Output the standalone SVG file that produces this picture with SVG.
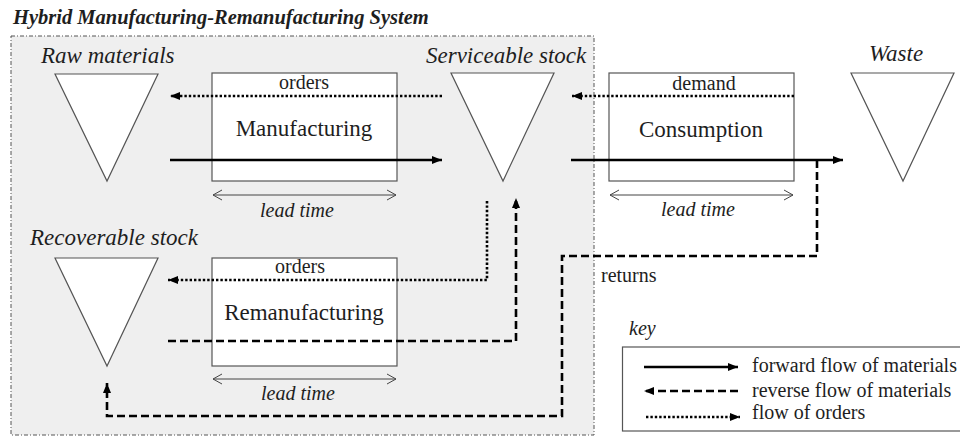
<svg xmlns="http://www.w3.org/2000/svg" width="960" height="436" viewBox="0 0 960 436">
<defs>
<style>
text{font-family:"Liberation Serif","Times New Roman",serif;fill:#1e1e1e}
.title{font-size:20.5px;font-weight:bold;font-style:italic}
.stock{font-size:23px;font-style:italic}
.lbl{font-size:23px;text-anchor:middle}
.small{font-size:20px;text-anchor:middle}
.lt{font-size:20px;font-style:italic;text-anchor:middle}
.txt{font-size:20px}
.tri{fill:#fff;stroke:#555;stroke-width:1.2}
.box{fill:#fff;stroke:#555;stroke-width:1.2}
.solid{fill:none;stroke:#000;stroke-width:2.6}
.dash{fill:none;stroke:#000;stroke-width:2.6;stroke-dasharray:8 4}
.dot{fill:none;stroke:#000;stroke-width:2.6;stroke-dasharray:2.4 2}
.lead{fill:none;stroke:#444;stroke-width:1}
</style>
<marker id="ah" markerUnits="userSpaceOnUse" markerWidth="12" markerHeight="10" refX="10" refY="5" orient="auto-start-reverse" viewBox="0 0 12 10">
<path d="M0,1 L10,5 L0,9 z" fill="#000"/>
</marker>
<marker id="ch" markerUnits="userSpaceOnUse" markerWidth="12" markerHeight="12" refX="10" refY="6" orient="auto-start-reverse" viewBox="0 0 12 12">
<path d="M1,1 L10,6 L1,11" fill="none" stroke="#444" stroke-width="1"/>
</marker>
</defs>
<rect width="960" height="436" fill="#fff"/>
<text class="title" x="13" y="24">Hybrid Manufacturing-Remanufacturing System</text>
<g id="system-boundary">
<rect x="11" y="36" width="583" height="399" fill="#efefef" stroke="#555" stroke-width="1" stroke-dasharray="4 2 1 2"/>
</g>
<g id="raw-materials">
<text class="stock" x="41" y="63">Raw materials</text>
<polygon class="tri" points="55,74 158,74 107,181"/>
</g>
<g id="manufacturing">
<rect class="box" x="212" y="73" width="185" height="108"/>
<text class="small" x="304" y="89">orders</text>
<text class="lbl" x="304" y="136">Manufacturing</text>
<line class="lead" x1="213" y1="195" x2="396" y2="195" marker-start="url(#ch)" marker-end="url(#ch)"/>
<text class="lt" x="297" y="217">lead time</text>
</g>
<g id="serviceable-stock">
<text class="stock" x="426" y="63">Serviceable stock</text>
<polygon class="tri" points="451,73 554,73 503,181"/>
</g>
<g id="consumption">
<rect class="box" x="609" y="73" width="185" height="108"/>
<text class="small" x="704" y="90">demand</text>
<text class="lbl" x="701" y="137">Consumption</text>
<line class="lead" x1="610" y1="195" x2="793" y2="195" marker-start="url(#ch)" marker-end="url(#ch)"/>
<text class="lt" x="698" y="216">lead time</text>
</g>
<g id="waste">
<text class="stock" x="869" y="61">Waste</text>
<polygon class="tri" points="851,73 954,73 903,181"/>
</g>
<g id="recoverable-stock">
<text class="stock" x="30" y="245">Recoverable stock</text>
<polygon class="tri" points="55,258 158,258 107,366"/>
</g>
<g id="remanufacturing">
<rect class="box" x="212" y="258" width="185" height="108"/>
<text class="small" x="300" y="273">orders</text>
<text class="lbl" x="304" y="320">Remanufacturing</text>
<line class="lead" x1="213" y1="379" x2="396" y2="379" marker-start="url(#ch)" marker-end="url(#ch)"/>
<text class="lt" x="298" y="400">lead time</text>
</g>
<g id="connectors">
<line class="dot" x1="442" y1="96" x2="170" y2="96" marker-end="url(#ah)"/>
<line class="solid" x1="170" y1="160" x2="442" y2="160" marker-end="url(#ah)"/>
<line class="dot" x1="794" y1="96" x2="572" y2="96" marker-end="url(#ah)"/>
<line class="solid" x1="571" y1="160" x2="843" y2="160" marker-end="url(#ah)"/>
<polyline class="dot" points="487,201 487,280 168,280" marker-end="url(#ah)"/>
<polyline class="dash" points="168,341 516,341 516,198" marker-end="url(#ah)"/>
<polyline class="dash" points="817,160 817,256 562,256 562,416 107,416 107,383" marker-end="url(#ah)"/>
<text class="txt" x="601" y="282">returns</text>
</g>
<g id="key">
<text class="txt" font-style="italic" x="629" y="335">key</text>
<rect x="622.5" y="347" width="345" height="84" fill="#fff" stroke="#555" stroke-width="1.2"/>
<line class="solid" x1="644" y1="367" x2="738" y2="367" stroke-width="2.2" marker-end="url(#ah)"/>
<text class="txt" x="752" y="372">forward flow of materials</text>
<line class="dash" x1="738" y1="391" x2="644" y2="391" stroke-width="2.2" marker-end="url(#ah)"/>
<text class="txt" x="752" y="397">reverse flow of materials</text>
<line class="dot" x1="646" y1="417" x2="740" y2="417" stroke-width="2.2" marker-end="url(#ah)"/>
<text class="txt" x="752" y="419">flow of orders</text>
</g>
</svg>
